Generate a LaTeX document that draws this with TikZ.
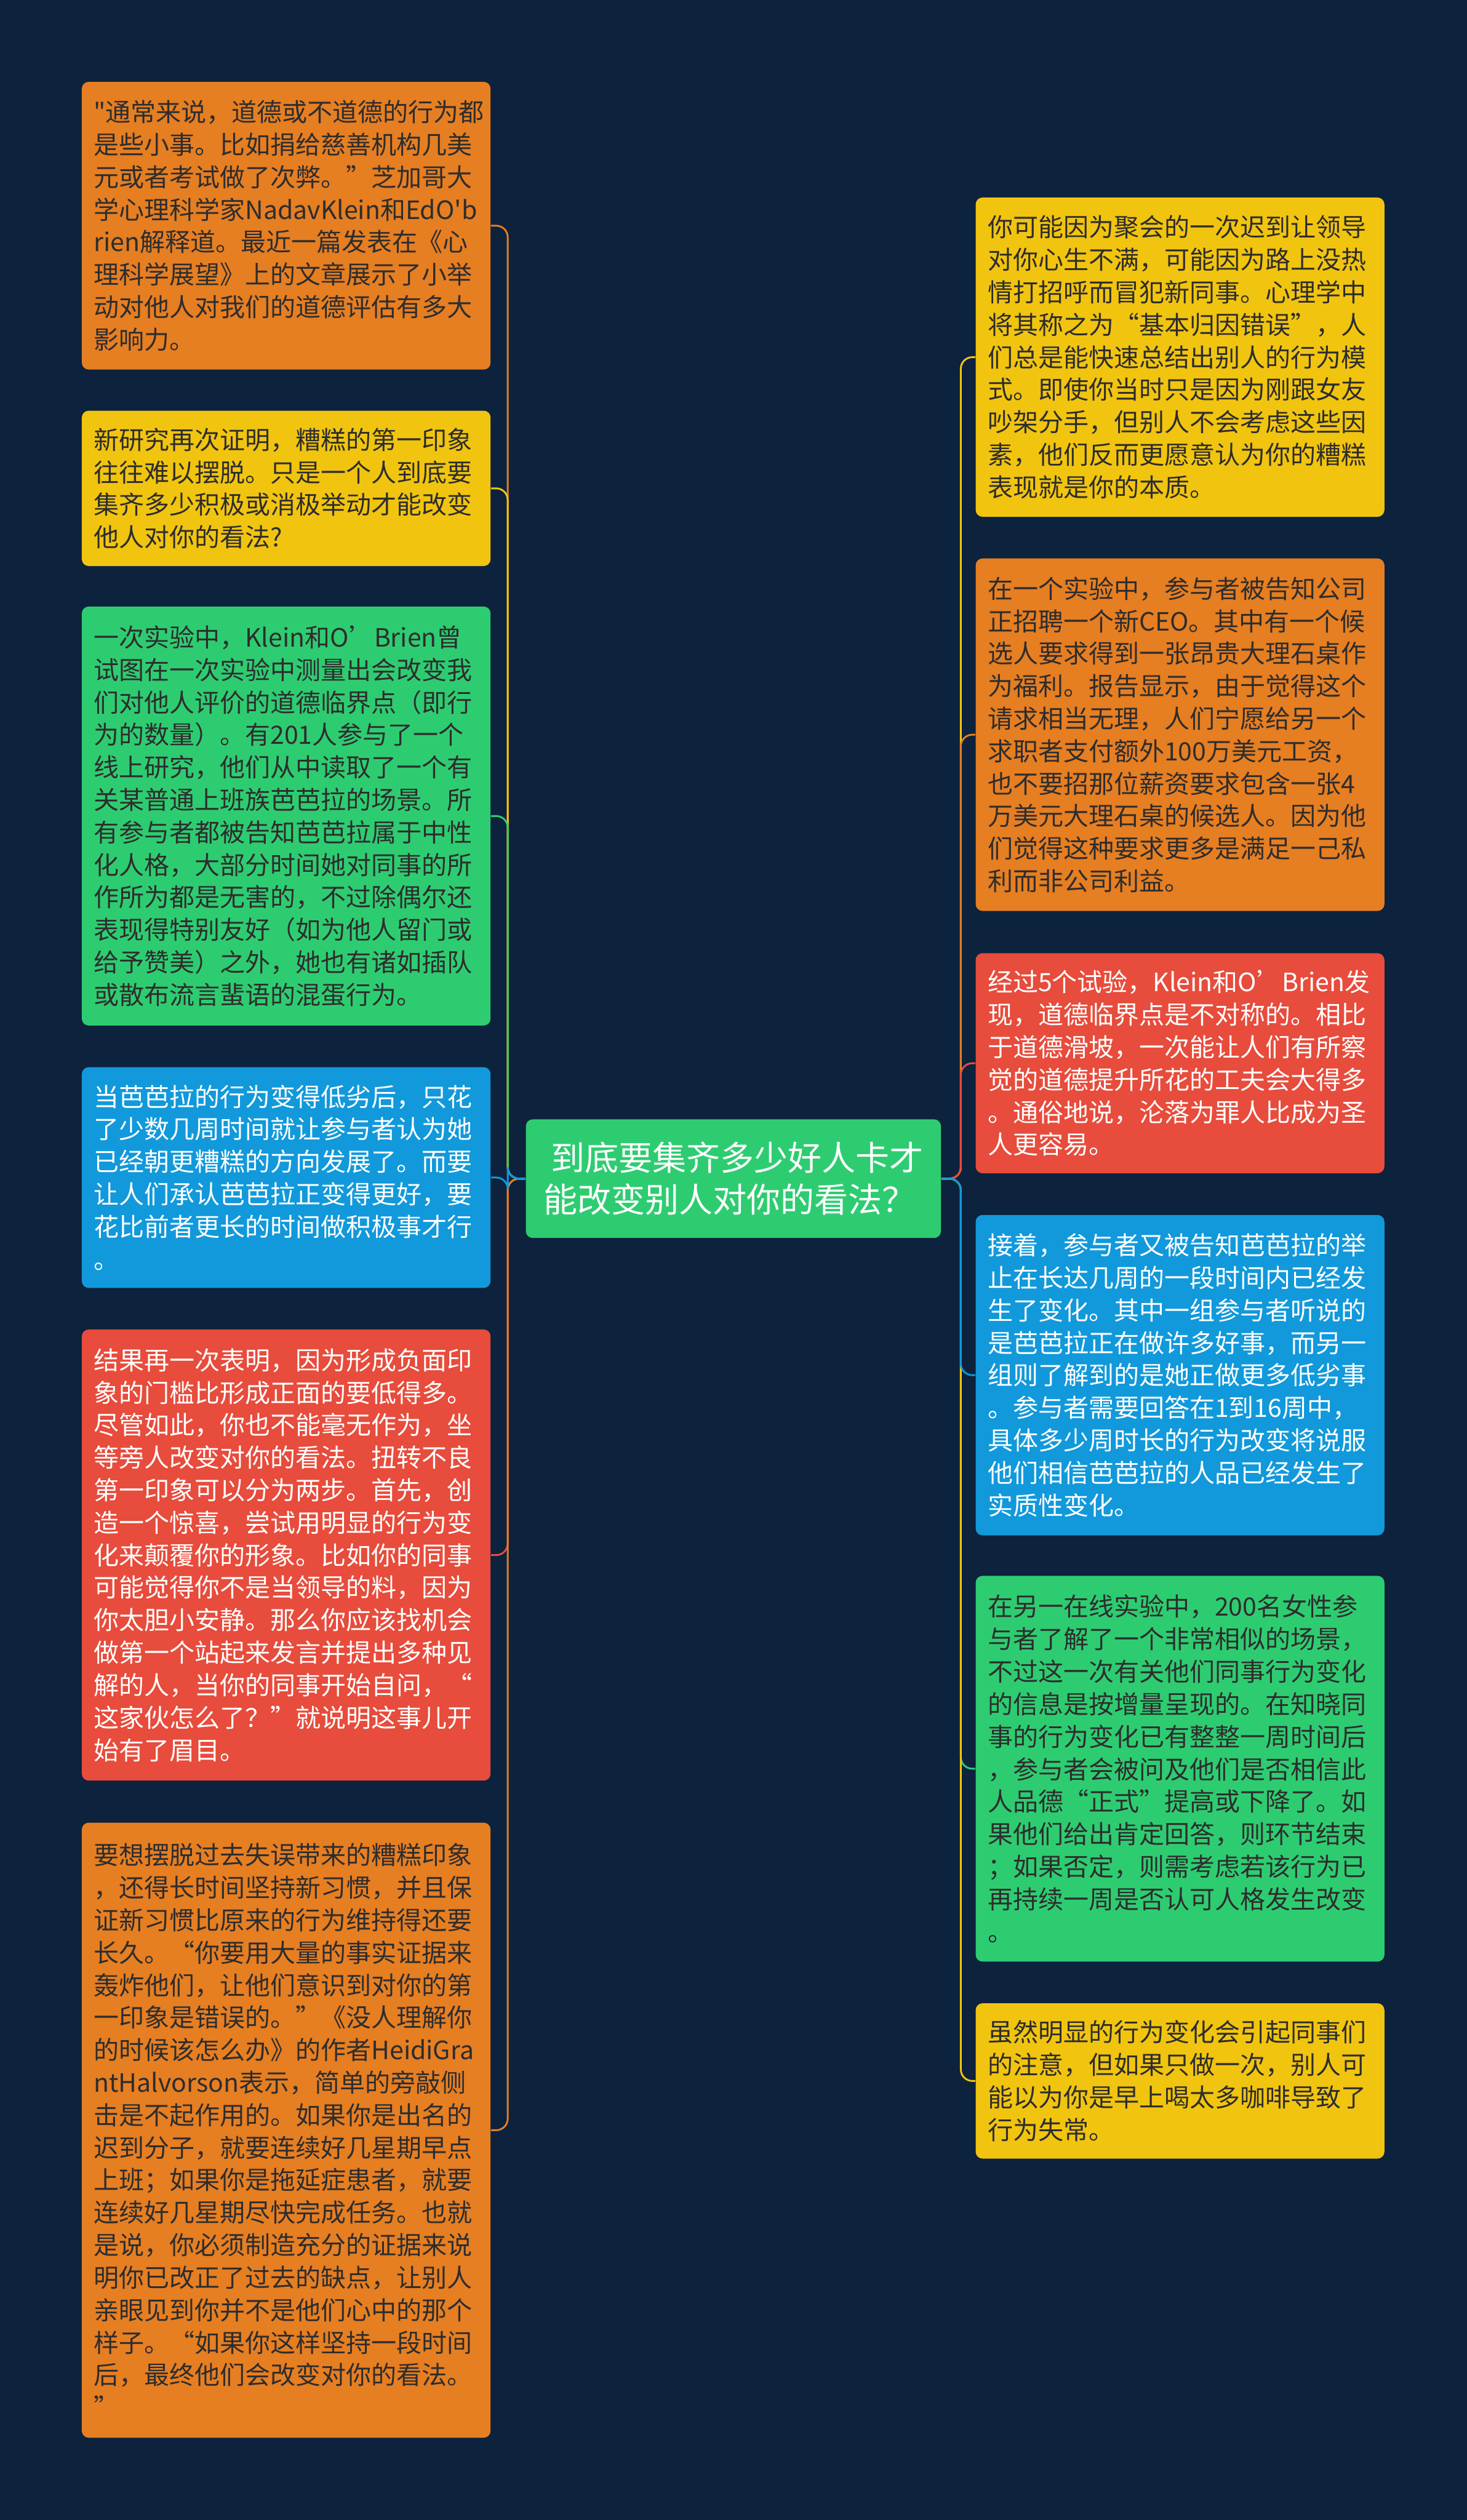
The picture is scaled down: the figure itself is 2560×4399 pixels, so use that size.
\documentclass[tikz,border=0pt]{standalone}
\usepackage{fontspec}
\newfontfamily\cjkfont{Noto Sans CJK SC}
\definecolor{bg}{RGB}{13,34,61}
\definecolor{cOrange}{RGB}{230,126,34}
\definecolor{cYellow}{RGB}{241,196,15}
\definecolor{cGreen}{RGB}{46,204,113}
\definecolor{cBlue}{RGB}{17,153,219}
\definecolor{cRed}{RGB}{231,76,60}
\definecolor{dark}{RGB}{45,45,45}
\tikzset{
  box/.style={rounded corners=0.12cm, text width=6.71cm, inner xsep=0.21cm, inner ysep=0pt,
    align=left, anchor=center, font=\cjkfont\fontsize{12.52pt}{16.13pt}\selectfont},
  darkbox/.style={box, fill=#1, text=dark},
  lightbox/.style={box, fill=#1, text=white},
  conn/.style={line width=0.9pt, rounded corners=0.2cm},
}
\begin{document}
\begin{tikzpicture}[x=0.01cm, y=-0.01cm]
\fill[bg] (0,0) rectangle (2560,4399);
\useasboundingbox (0,0) rectangle (2560,4399);

\node[rounded corners=0.12cm, fill=cGreen, text=white, minimum width=7.24cm, minimum height=2.07cm,
  align=left, font=\cjkfont\fontsize{16.8pt}{20.8pt}\selectfont] (C) at (1280,2057.5)
  {\ 到底要集齐多少好人卡才\\能改变别人对你的看法？};

% left column
\node[darkbox=cOrange, minimum height=5.02cm] (L1) at (499.5,394) {"通常来说，道德或不道德的行为都\\是些小事。比如捐给慈善机构几美\\元或者考试做了次弊。”芝加哥大\\学心理科学家NadavKlein和EdO'b\\rien解释道。最近一篇发表在《心\\理科学展望》上的文章展示了小举\\动对他人对我们的道德评估有多大\\影响力。};
\node[darkbox=cYellow, minimum height=2.71cm] (L2) at (499.5,852.5) {新研究再次证明，糟糕的第一印象\\往往难以摆脱。只是一个人到底要\\集齐多少积极或消极举动才能改变\\他人对你的看法?};
\node[darkbox=cGreen, minimum height=7.31cm] (L3) at (499.5,1424.5) {一次实验中，Klein和O’Brien曾\\试图在一次实验中测量出会改变我\\们对他人评价的道德临界点（即行\\为的数量）。有201人参与了一个\\线上研究，他们从中读取了一个有\\关某普通上班族芭芭拉的场景。所\\有参与者都被告知芭芭拉属于中性\\化人格，大部分时间她对同事的所\\作所为都是无害的，不过除偶尔还\\表现得特别友好（如为他人留门或\\给予赞美）之外，她也有诸如插队\\或散布流言蜚语的混蛋行为。};
\node[lightbox=cBlue, minimum height=3.85cm] (L4) at (499.5,2055.5) {当芭芭拉的行为变得低劣后，只花\\了少数几周时间就让参与者认为她\\已经朝更糟糕的方向发展了。而要\\让人们承认芭芭拉正变得更好，要\\花比前者更长的时间做积极事才行\\。};
\node[lightbox=cRed, minimum height=7.87cm] (L5) at (499.5,2714.5) {结果再一次表明，因为形成负面印\\象的门槛比形成正面的要低得多。\\尽管如此，你也不能毫无作为，坐\\等旁人改变对你的看法。扭转不良\\第一印象可以分为两步。首先，创\\造一个惊喜，尝试用明显的行为变\\化来颠覆你的形象。比如你的同事\\可能觉得你不是当领导的料，因为\\你太胆小安静。那么你应该找机会\\做第一个站起来发言并提出多种见\\解的人，当你的同事开始自问，“\\这家伙怎么了？”就说明这事儿开\\始有了眉目。};
\node[darkbox=cOrange, minimum height=10.73cm] (L6) at (499.5,3718.5) {要想摆脱过去失误带来的糟糕印象\\，还得长时间坚持新习惯，并且保\\证新习惯比原来的行为维持得还要\\长久。“你要用大量的事实证据来\\轰炸他们，让他们意识到对你的第\\一印象是错误的。”《没人理解你\\的时候该怎么办》的作者HeidiGra\\ntHalvorson表示，简单的旁敲侧\\击是不起作用的。如果你是出名的\\迟到分子，就要连续好几星期早点\\上班；如果你是拖延症患者，就要\\连续好几星期尽快完成任务。也就\\是说，你必须制造充分的证据来说\\明你已改正了过去的缺点，让别人\\亲眼见到你并不是他们心中的那个\\样子。“如果你这样坚持一段时间\\后，最终他们会改变对你的看法。\\”};

% right column
\node[darkbox=cYellow, minimum height=5.57cm] (R1) at (2059.5,623.5) {你可能因为聚会的一次迟到让领导\\对你心生不满，可能因为路上没热\\情打招呼而冒犯新同事。心理学中\\将其称之为“基本归因错误”，人\\们总是能快速总结出别人的行为模\\式。即使你当时只是因为刚跟女友\\吵架分手，但别人不会考虑这些因\\素，他们反而更愿意认为你的糟糕\\表现就是你的本质。};
\node[darkbox=cOrange, minimum height=6.15cm] (R2) at (2059.5,1282.5) {在一个实验中，参与者被告知公司\\正招聘一个新CEO。其中有一个候\\选人要求得到一张昂贵大理石桌作\\为福利。报告显示，由于觉得这个\\请求相当无理，人们宁愿给另一个\\求职者支付额外100万美元工资，\\也不要招那位薪资要求包含一张4\\万美元大理石桌的候选人。因为他\\们觉得这种要求更多是满足一己私\\利而非公司利益。};
\node[lightbox=cRed, minimum height=3.84cm] (R3) at (2059.5,1856) {经过5个试验，Klein和O’Brien发\\现，道德临界点是不对称的。相比\\于道德滑坡，一次能让人们有所察\\觉的道德提升所花的工夫会大得多\\。通俗地说，沦落为罪人比成为圣\\人更容易。};
\node[lightbox=cBlue, minimum height=5.59cm] (R4) at (2059.5,2400.5) {接着，参与者又被告知芭芭拉的举\\止在长达几周的一段时间内已经发\\生了变化。其中一组参与者听说的\\是芭芭拉正在做许多好事，而另一\\组则了解到的是她正做更多低劣事\\。参与者需要回答在1到16周中，\\具体多少周时长的行为改变将说服\\他们相信芭芭拉的人品已经发生了\\实质性变化。};
\node[darkbox=cGreen, minimum height=6.73cm] (R5) at (2059.5,3087.5) {在另一在线实验中，200名女性参\\与者了解了一个非常相似的场景，\\不过这一次有关他们同事行为变化\\的信息是按增量呈现的。在知晓同\\事的行为变化已有整整一周时间后\\，参与者会被问及他们是否相信此\\人品德“正式”提高或下降了。如\\果他们给出肯定回答，则环节结束\\；如果否定，则需考虑若该行为已\\再持续一周是否认可人格发生改变\\。};
\node[darkbox=cYellow, minimum height=2.71cm] (R6) at (2059.5,3632.5) {虽然明显的行为变化会引起同事们\\的注意，但如果只做一次，别人可\\能以为你是早上喝太多咖啡导致了\\行为失常。};

% connectors
\draw[conn, cOrange] (C.west) -- ++(-31,0) |- (L1.east);
\draw[conn, cYellow] (C.west) -- ++(-31,0) |- (L2.east);
\draw[conn, cGreen]  (C.west) -- ++(-31,0) |- (L3.east);
\draw[conn, cRed]    (C.west) -- ++(-31,0) |- (L5.east);
\draw[conn, cOrange] (C.west) -- ++(-31,0) |- (L6.east);
\draw[conn, cBlue]   (C.west) -- ++(-31,0) |- (L4.east);

\draw[conn, cYellow] (C.east) -- ++(34,0) |- (R1.west);
\draw[conn, cOrange] (C.east) -- ++(34,0) |- (R2.west);
\draw[conn, cRed]    (C.east) -- ++(34,0) |- (R3.west);
\draw[conn, cGreen]  (C.east) -- ++(34,0) |- (R5.west);
\draw[conn, cYellow] (C.east) -- ++(34,0) |- (R6.west);
\draw[conn, cBlue]   (C.east) -- ++(34,0) |- (R4.west);
\end{tikzpicture}
\end{document}
